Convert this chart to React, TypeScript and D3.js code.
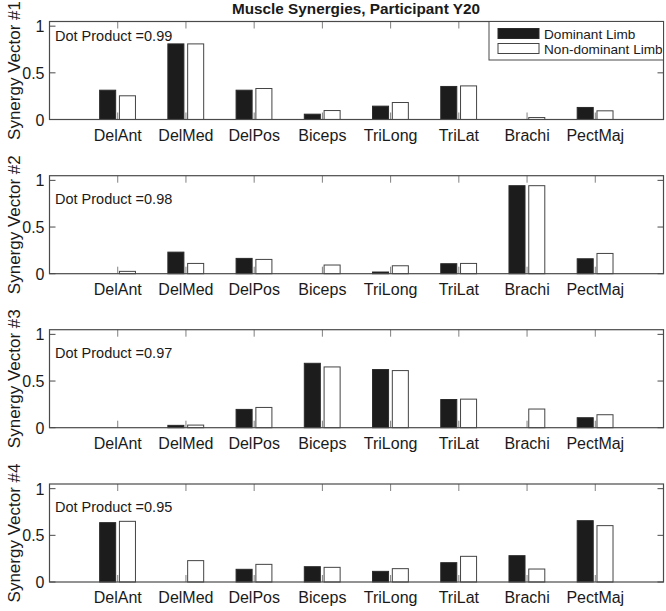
import React from "react";
import * as d3 from "d3";

const categories = ["DelAnt", "DelMed", "DelPos", "Biceps", "TriLong", "TriLat", "Brachi", "PectMaj"];

const dominant1 = [0.314, 0.81, 0.314, 0.057, 0.143, 0.354, 0, 0.129];
const nonDominant1 = [0.254, 0.81, 0.332, 0.096, 0.182, 0.36, 0.021, 0.093];
const dominant2 = [0, 0.231, 0.164, 0, 0.018, 0.107, 0.943, 0.16];
const nonDominant2 = [0.025, 0.11, 0.153, 0.093, 0.085, 0.11, 0.943, 0.217];
const dominant3 = [0, 0.025, 0.196, 0.69, 0.623, 0.302, 0, 0.107];
const nonDominant3 = [0, 0.028, 0.217, 0.651, 0.612, 0.306, 0.2, 0.139];
const dominant4 = [0.636, 0, 0.136, 0.164, 0.114, 0.207, 0.282, 0.657];
const nonDominant4 = [0.65, 0.229, 0.189, 0.157, 0.143, 0.275, 0.139, 0.604];

const dotProducts = ["0.99", "0.98", "0.97", "0.95"];
const yTicks = [0, 0.5, 1];
const seriesNames = ["Dominant Limb", "Non-dominant Limb"];
const title = "Muscle Synergies, Participant Y20";

const panels = [
  { dom: dominant1, non: nonDominant1, dot: dotProducts[0], label: "Synergy Vector #1" },
  { dom: dominant2, non: nonDominant2, dot: dotProducts[1], label: "Synergy Vector #2" },
  { dom: dominant3, non: nonDominant3, dot: dotProducts[2], label: "Synergy Vector #3" },
  { dom: dominant4, non: nonDominant4, dot: dotProducts[3], label: "Synergy Vector #4" },
];

const W = 666;
const H = 611;
const zeros = [119.5, 273.7, 427.7, 582];
const FONT = "'Liberation Sans', Arial, Helvetica, sans-serif";
const BORDER = "#4a4a4a";
const TICK = "#808080";

export default function App() {
  const x = d3.scaleLinear().domain([0, 9]).range([49.5, 663.5]);
  const unit = x(1) - x(0);
  const barW = 0.235 * unit;
  return (
    <svg width={W} height={H} style={{ position: "absolute", left: 0, top: 0, background: "#fff" }} fontFamily={FONT}>
      <rect x={0} y={0} width={W} height={H} fill="#fff" />
      <text x={356} y={13.5} textAnchor="middle" fontWeight="bold" fontSize={15.3} fill="#1a1a1a">{title}</text>
      {panels.map((p, pi) => {
        const y = d3.scaleLinear().domain([0, 1.05]).range([zeros[pi], zeros[pi] - 98]);
        const top = y(1.05);
        const bottom = y(0);
        const left = x(0);
        const right = x(9);
        const dotY = pi === 0 ? y(0.9) : y(0.8);
        return (
          <g key={pi}>
            {categories.map((c, i) => {
              const cx = x(i + 1);
              const dv = p.dom[i];
              const nv = p.non[i];
              return (
                <g key={c}>
                  {dv > 0 && (
                    <rect x={cx - 0.265 * unit} y={y(dv)} width={barW} height={y(0) - y(dv)} fill="#1c1c1c" stroke="#2a2a2a" strokeWidth={1} />
                  )}
                  {nv > 0 && (
                    <rect x={cx + 0.025 * unit} y={y(nv)} width={barW} height={y(0) - y(nv)} fill="#fff" stroke="#444" strokeWidth={1} />
                  )}
                  <line x1={cx} x2={cx} y1={bottom} y2={bottom - 7} stroke={TICK} strokeWidth={1} />
                  <line x1={cx} x2={cx} y1={top} y2={top + 7} stroke={TICK} strokeWidth={1} />
                  <text x={cx} y={bottom + 21} textAnchor="middle" fontSize={16} fill="#1a1a1a">{c}</text>
                </g>
              );
            })}
            {yTicks.map((t) => (
              <g key={t}>
                <line x1={left} x2={left + 6} y1={y(t)} y2={y(t)} stroke={BORDER} strokeWidth={1} />
                <line x1={right} x2={right - 6} y1={y(t)} y2={y(t)} stroke={BORDER} strokeWidth={1} />
                <text x={left - 5} y={y(t) + 6} textAnchor="end" fontSize={16} fill="#1a1a1a">{t}</text>
              </g>
            ))}
            <rect x={left} y={top} width={right - left} height={bottom - top} fill="none" stroke={BORDER} strokeWidth={1.2} />
            <text x={55} y={dotY + 5} fontSize={14.5} fill="#1a1a1a">{"Dot Product =" + p.dot}</text>
            <text transform={`translate(20,${(top + bottom) / 2}) rotate(-90)`} textAnchor="middle" fontSize={17} fill="#1a1a1a">{p.label}</text>
            {pi === 0 && (
              <g>
                <rect x={489} y={top} width={right - 489} height={60 - top} fill="#fff" stroke={BORDER} strokeWidth={1} />
                <rect x={498} y={28.5} width={41} height={10} fill="#1c1c1c" stroke="#2a2a2a" />
                <rect x={498} y={43.5} width={41} height={10} fill="#fff" stroke="#444" />
                <text x={544} y={38.5} fontSize={13.6} fill="#1a1a1a">{seriesNames[0]}</text>
                <text x={544} y={53.5} fontSize={13.6} fill="#1a1a1a">{seriesNames[1]}</text>
              </g>
            )}
          </g>
        );
      })}
    </svg>
  );
}
